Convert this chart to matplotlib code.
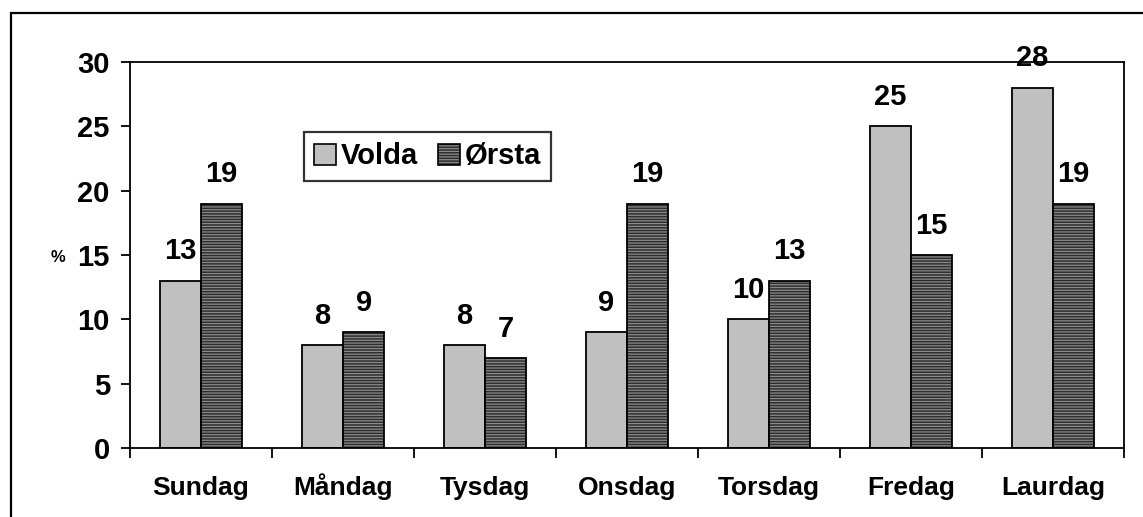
import matplotlib
matplotlib.use("Agg")
import matplotlib.pyplot as plt
import numpy as np
from matplotlib.patches import Patch, Rectangle
from matplotlib.ticker import FixedLocator

plt.rcParams['font.family'] = ['Liberation Sans', 'DejaVu Sans']
plt.rcParams['font.weight'] = 'bold'
plt.rcParams['hatch.linewidth'] = 0.9

days = ["Sundag", "Måndag", "Tysdag", "Onsdag", "Torsdag", "Fredag", "Laurdag"]
volda = [13, 8, 8, 9, 10, 25, 28]
orsta = [19, 9, 7, 19, 13, 15, 19]
series_names = ["Volda", "Ørsta"]
yticks = [0, 5, 10, 15, 20, 25, 30]

W, H = 1143, 517
fig = plt.figure(figsize=(W / 100, H / 100), dpi=100)
ax = fig.add_axes([130 / W, 1 - 448 / H, (1124 - 130) / W, (448 - 62) / H])

# outer frame
fig.patches.append(Rectangle((11 / W, -0.1), 1.2, 1 - 13 / H + 0.1, transform=fig.transFigure,
                             fill=False, edgecolor='black', linewidth=1.6, zorder=0))

x = np.arange(len(days))
bw = 0.29
light = '#c0c0c0'
dark = '#2e2e2e'
hatch_col = '#8a8a8a'

ax.bar(x - bw / 2, volda, bw, color=light, edgecolor='black', linewidth=1.3, zorder=2)
ax.bar(x + bw / 2, orsta, bw, color=dark, edgecolor=hatch_col, linewidth=0, hatch='------', zorder=2)
ax.bar(x + bw / 2, orsta, bw, fill=False, edgecolor='black', linewidth=1.3, zorder=3)

for xi, v in zip(x - bw / 2, volda):
    ax.annotate(str(v), (xi, v), xytext=(0, 11), textcoords='offset points',
                ha='center', va='bottom', fontsize=21, fontweight='bold')
for xi, v in zip(x + bw / 2, orsta):
    ax.annotate(str(v), (xi, v), xytext=(0, 11), textcoords='offset points',
                ha='center', va='bottom', fontsize=21, fontweight='bold')

ax.set_xlim(-0.5, len(days) - 0.5)
ax.set_ylim(0, 30)
ax.set_yticks(yticks)
ax.set_yticklabels([str(t) for t in yticks])
ax.tick_params(axis='y', direction='out', length=6.5, width=1.3, pad=8, labelsize=21)
ax.set_xticks(x)
ax.set_xticklabels(days)
for lbl in ax.get_xticklabels():
    lbl.set_verticalalignment('baseline')
ax.xaxis.set_minor_locator(FixedLocator(np.arange(-0.5, len(days), 1.0)))
ax.tick_params(axis='x', which='major', length=0, pad=34, labelsize=19)
ax.tick_params(axis='x', which='minor', direction='out', length=7, width=1.3)
for s in ax.spines.values():
    s.set_linewidth(1.3)

ax.set_ylabel('%', rotation=0, fontsize=12, fontweight='bold', va='center', ha='center')
ax.yaxis.set_label_coords(-0.072, 14.8 / 30)

h1 = Patch(facecolor=light, edgecolor='black', linewidth=1.2)
h2a = Patch(facecolor=dark, edgecolor=hatch_col, linewidth=0, hatch='------')
h2b = Patch(fill=False, edgecolor='black', linewidth=1.2)
leg = ax.legend([h1, (h2a, h2b)], series_names, loc='upper left',
                bbox_to_anchor=(0.175, 0.818), fontsize=21, frameon=True, fancybox=False,
                handlelength=0.75, handleheight=0.75, handletextpad=0.15, columnspacing=0.7,
                ncol=2, borderpad=0.35, borderaxespad=0)
leg.get_frame().set_edgecolor('black')
leg.get_frame().set_linewidth(1.6)

fig.savefig('out.png', dpi=100)
